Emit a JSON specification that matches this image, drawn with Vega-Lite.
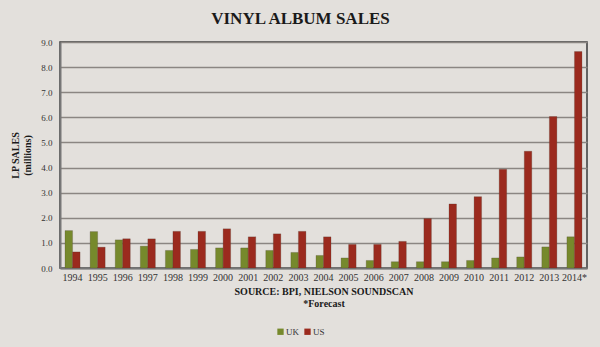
{
  "$schema": "https://vega.github.io/schema/vega-lite/v6.json",
  "width": 527,
  "height": 226,
  "autosize": "none",
  "padding": {"left": 60, "top": 42, "right": 13, "bottom": 79},
  "background": "#e3e0dc",
  "config": {
    "view": {"stroke": "#3a3a3a", "strokeWidth": 1.5},
    "font": "Liberation Serif"
  },
  "title": {
    "text": "VINYL ALBUM SALES",
    "fontSize": 17,
    "font": "Liberation Serif",
    "fontWeight": "bold",
    "color": "#1a1a1a",
    "anchor": "middle",
    "dx": -23,
    "offset": 10
  },
  "data": {
    "values": [
      {"year": "1994", "country": "UK", "value": 1.49}, {"year": "1994", "country": "US", "value": 0.64},
      {"year": "1995", "country": "UK", "value": 1.45}, {"year": "1995", "country": "US", "value": 0.83},
      {"year": "1996", "country": "UK", "value": 1.12}, {"year": "1996", "country": "US", "value": 1.16},
      {"year": "1997", "country": "UK", "value": 0.87}, {"year": "1997", "country": "US", "value": 1.16},
      {"year": "1998", "country": "UK", "value": 0.7}, {"year": "1998", "country": "US", "value": 1.46},
      {"year": "1999", "country": "UK", "value": 0.74}, {"year": "1999", "country": "US", "value": 1.46},
      {"year": "2000", "country": "UK", "value": 0.8}, {"year": "2000", "country": "US", "value": 1.56},
      {"year": "2001", "country": "UK", "value": 0.8}, {"year": "2001", "country": "US", "value": 1.24},
      {"year": "2002", "country": "UK", "value": 0.7}, {"year": "2002", "country": "US", "value": 1.36},
      {"year": "2003", "country": "UK", "value": 0.62}, {"year": "2003", "country": "US", "value": 1.46},
      {"year": "2004", "country": "UK", "value": 0.5}, {"year": "2004", "country": "US", "value": 1.24},
      {"year": "2005", "country": "UK", "value": 0.4}, {"year": "2005", "country": "US", "value": 0.94},
      {"year": "2006", "country": "UK", "value": 0.3}, {"year": "2006", "country": "US", "value": 0.94},
      {"year": "2007", "country": "UK", "value": 0.25}, {"year": "2007", "country": "US", "value": 1.06},
      {"year": "2008", "country": "UK", "value": 0.25}, {"year": "2008", "country": "US", "value": 1.97},
      {"year": "2009", "country": "UK", "value": 0.25}, {"year": "2009", "country": "US", "value": 2.55},
      {"year": "2010", "country": "UK", "value": 0.3}, {"year": "2010", "country": "US", "value": 2.84},
      {"year": "2011", "country": "UK", "value": 0.4}, {"year": "2011", "country": "US", "value": 3.93},
      {"year": "2012", "country": "UK", "value": 0.44}, {"year": "2012", "country": "US", "value": 4.65},
      {"year": "2013", "country": "UK", "value": 0.84}, {"year": "2013", "country": "US", "value": 6.03},
      {"year": "2014*", "country": "UK", "value": 1.24}, {"year": "2014*", "country": "US", "value": 8.62}
    ]
  },
  "mark": {"type": "bar", "stroke": "#4a3a30", "strokeWidth": 0.4, "strokeOpacity": 0.6},
  "encoding": {
    "x": {
      "field": "year",
      "type": "nominal",
      "sort": null,
      "scale": {"paddingInner": 0.4, "paddingOuter": 0.2},
      "axis": {
        "labelAngle": 0,
        "labelFont": "Liberation Serif",
        "labelFontSize": 10,
        "labelColor": "#333",
        "labelPadding": 4,
        "ticks": false,
        "domainColor": "#777",
        "domainWidth": 2,
        "title": ["SOURCE: BPI, NIELSON SOUNDSCAN", "*Forecast"],
        "titleFont": "Liberation Serif",
        "titleFontSize": 10,
        "titleFontWeight": "bold",
        "titleColor": "#1a1a1a",
        "titlePadding": 4
      }
    },
    "xOffset": {"field": "country", "type": "nominal", "sort": ["UK", "US"]},
    "y": {
      "field": "value",
      "type": "quantitative",
      "scale": {"domain": [0, 9], "nice": false},
      "axis": {
        "values": [0, 1, 2, 3, 4, 5, 6, 7, 8, 9],
        "format": ".1f",
        "labelFont": "Liberation Serif",
        "labelFontSize": 9,
        "labelColor": "#333",
        "labelPadding": 8,
        "ticks": false,
        "domainColor": "#777",
        "domainWidth": 2,
        "gridColor": "#8b8682",
        "gridWidth": 1.5,
        "title": ["LP SALES", "(millions)"],
        "titleFont": "Liberation Serif",
        "titleFontSize": 10,
        "titleFontWeight": "bold",
        "titleColor": "#1a1a1a",
        "titlePadding": 8
      }
    },
    "color": {
      "field": "country",
      "type": "nominal",
      "scale": {"domain": ["UK", "US"], "range": ["#76892c", "#9b2a1e"]},
      "legend": {
        "orient": "none",
        "legendX": 216,
        "legendY": 285,
        "direction": "horizontal",
        "title": null,
        "symbolType": "square",
        "symbolSize": 40,
        "symbolStrokeWidth": 0,
        "labelFont": "Liberation Serif",
        "labelFontSize": 9,
        "labelColor": "#333",
        "labelOffset": 1,
        "columnPadding": 4
      }
    }
  }
}
